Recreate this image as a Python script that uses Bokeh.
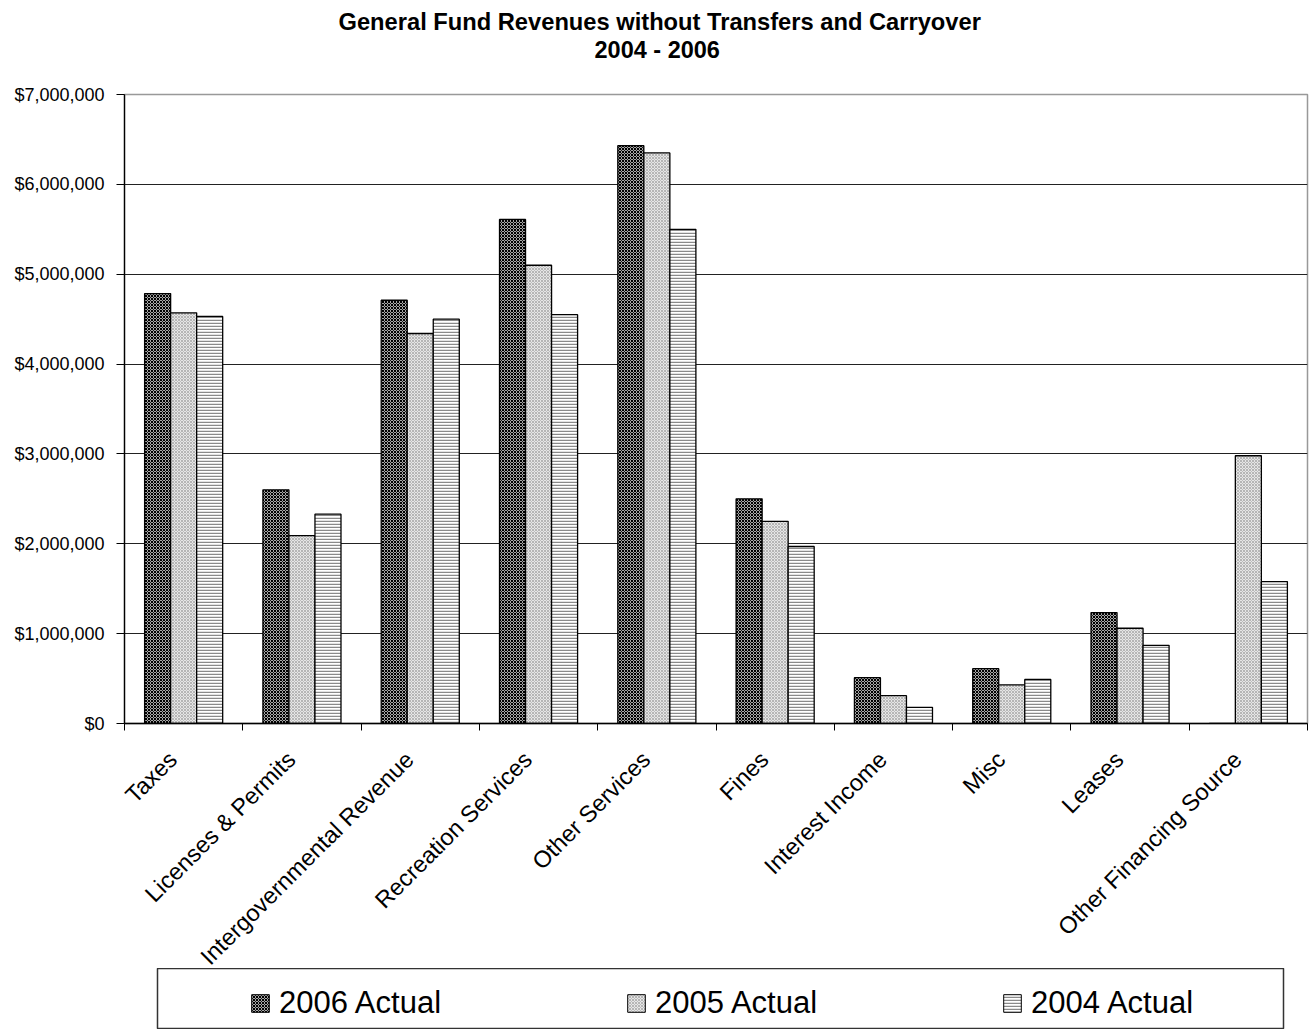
import math
import numpy as np
from bokeh.plotting import figure
from bokeh.models import FixedTicker, NumeralTickFormatter, Legend, LegendItem, Title
from bokeh.layouts import column
from bokeh.embed import file_html
from bokeh.resources import INLINE

categories = ["Taxes", "Licenses & Permits", "Intergovernmental Revenue",
              "Recreation Services", "Other Services", "Fines",
              "Interest Income", "Misc", "Leases", "Other Financing Source"]
actual_2006 = [4785000, 2600000, 4710000, 5610000, 6430000, 2500000, 510000, 610000, 1235000, 0]
actual_2005 = [4570000, 2090000, 4340000, 5100000, 6350000, 2250000, 310000, 430000, 1060000, 2980000]
actual_2004 = [4530000, 2330000, 4500000, 4550000, 5500000, 1970000, 180000, 490000, 870000, 1580000]
series_labels = ["2006 Actual", "2005 Actual", "2004 Actual"]
y_ticks = [0, 1000000, 2000000, 3000000, 4000000, 5000000, 6000000, 7000000]
grid_ticks = [1000000, 2000000, 3000000, 4000000, 5000000, 6000000]
title_line1 = "General Fund Revenues without Transfers and Carryover"
title_line2 = "2004 - 2006"

FONT = "Liberation Sans"
styles = [
    dict(fill_color="#a8a8a8", hatch_pattern="x", hatch_color="black", hatch_scale=3, hatch_weight=1),
    dict(fill_color="#e6e6e6", hatch_pattern="x", hatch_color="#a0a0a0", hatch_scale=3, hatch_weight=0.7),
    dict(fill_color="white", hatch_pattern="-", hatch_color="#8a8a8a", hatch_scale=3, hatch_weight=1.5),
]

p = figure(width=1313, height=981, x_range=(0, 10), y_range=(0, 7000000),
           output_backend="svg", toolbar_location=None,
           min_border_left=124, min_border_right=6, min_border_top=94, min_border_bottom=245)

# title block: p.title is the outermost line; a blank (white) spacer sits nearest the frame
p.title.text = title_line1
p.title.align = "left"
p.title.offset = 214
p.title.standoff = 0
p.title.text_font = FONT
p.title.text_font_size = "23.7px"
p.title.text_font_style = "bold"
p.title.text_color = "black"
spacer = Title(text=".", text_color="white", standoff=13, text_font=FONT, text_font_size="23.5px")
t2 = Title(text=title_line2, align="left", offset=470, standoff=0,
           text_font=FONT, text_font_size="23.5px", text_font_style="bold", text_color="black")
p.add_layout(spacer, "above")
p.add_layout(t2, "above")

idx = np.arange(len(categories))
bw = 0.22
series = [actual_2006, actual_2005, actual_2004]
for k, vals in enumerate(series):
    p.vbar(x=idx + 0.5 + (k - 1) * bw, top=vals, bottom=0, width=bw,
           line_color="black", line_width=1.3, **styles[k])

label_shift = 0.09  # rotated labels sit slightly left of the category centre
label_pos = [float(i + 0.5 - label_shift) for i in idx]
p.xaxis.ticker = FixedTicker(ticks=label_pos, minor_ticks=list(range(len(categories) + 1)))
p.xaxis.major_label_overrides = {pos: c for pos, c in zip(label_pos, categories)}
p.xaxis.major_label_orientation = math.pi / 4
p.xaxis.major_tick_out = 0
p.xaxis.major_tick_in = 0
p.xaxis.minor_tick_out = 7
p.xaxis.minor_tick_in = 0
p.xaxis.minor_tick_line_color = "black"
p.xaxis.major_label_text_font = FONT
p.xaxis.major_label_text_font_size = "23.5px"
p.xaxis.major_label_text_color = "black"
p.xaxis.major_label_standoff = 25

p.yaxis.ticker = FixedTicker(ticks=y_ticks)
p.yaxis.formatter = NumeralTickFormatter(format="$0,0")
p.yaxis.major_tick_out = 8
p.yaxis.major_tick_in = 0
p.yaxis.minor_tick_line_color = None
p.yaxis.major_label_text_font = FONT
p.yaxis.major_label_text_font_size = "18px"
p.yaxis.major_label_text_color = "black"
p.yaxis.major_label_standoff = 12

for ax in (p.xaxis, p.yaxis):
    ax.axis_line_color = "black"
    ax.axis_line_width = 1.3
    ax.major_tick_line_color = "black"

p.xgrid.visible = False
p.ygrid.ticker = FixedTicker(ticks=grid_ticks)
p.ygrid.grid_line_color = "#222222"
p.ygrid.grid_line_width = 1
p.outline_line_color = "#999999"
p.outline_line_width = 1.5

# legend container (its frame is aligned with the main frame by the column)
lg = figure(width=1256, height=61, x_range=(0, 1), y_range=(0, 1),
            output_backend="svg", toolbar_location=None,
            x_axis_location=None, y_axis_location=None, min_border=0,
            margin=(-13, 0, 0, 33))
lg.xgrid.visible = False
lg.ygrid.visible = False
lg.outline_line_color = "#333333"
lg.outline_line_width = 1.5
items = []
for k, lab in enumerate(series_labels):
    r = lg.vbar(x=[-5], top=[-5], bottom=[-6], width=0.1, line_color="black", line_width=1, **styles[k])
    items.append(LegendItem(label=lab, renderers=[r]))
legend = Legend(items=items, orientation="horizontal", location=(92, 8),
                padding=0, margin=0, spacing=184, label_width=150,
                glyph_width=22, glyph_height=22, label_standoff=8,
                label_text_font=FONT, label_text_font_size="31px", label_text_color="black",
                border_line_color=None, background_fill_alpha=0)
lg.add_layout(legend, "center")

layout = column(p, lg, spacing=0)
open("out.html", "w").write(file_html(layout, INLINE))
